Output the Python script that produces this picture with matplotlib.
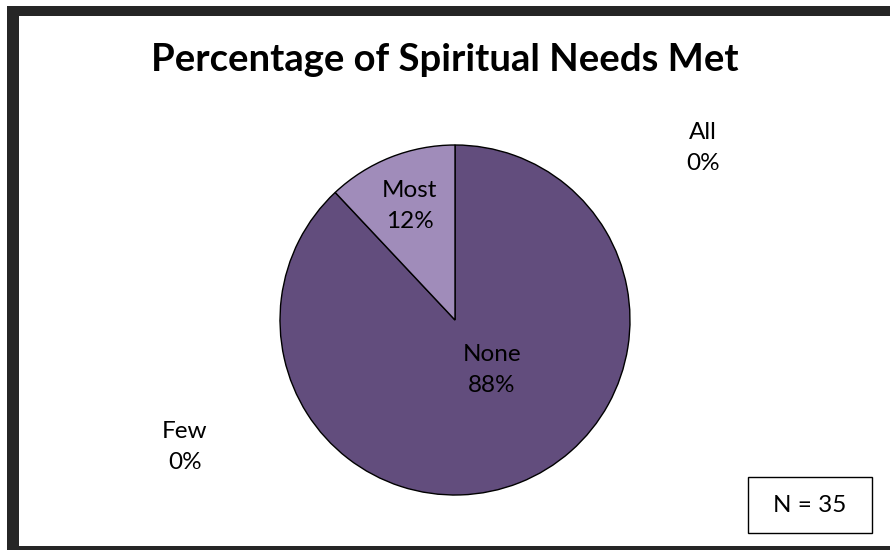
import numpy as np
import matplotlib

matplotlib.use("Agg")

import matplotlib.pyplot as plt
from matplotlib.patches import Rectangle

plt.rcParams["font.family"] = ["Lato", "DejaVu Sans"]

# survey answers, drawn clockwise from 12 o'clock
categories = ["None", "Most", "All", "Few"]
percent = [88, 12, 0, 0]
respondents = 35

colors = {"None": "#624D7D", "Most": "#A08CBA"}
# label offset inside each wedge: (radius fraction, turn from the bisector in deg)
inner_pos = {"None": (0.355, 14.8), "Most": (0.70, 0.0)}
# empty slices get their labels parked outside the pie
outer_pos = {"All": (1.417, 0.983), "Few": (-1.543, -0.726)}

W, H = 890, 550
fig = plt.figure(figsize=(W / 100, H / 100), dpi=100)

# heavy dark frame running off the right and bottom edges
frame = "#262626"
for x0, y0, w, h in [(7, 6, 900, 10), (7, 6, 12, 560), (7, 546, 900, 20)]:
    fig.patches.append(Rectangle((x0 / W, 1 - (y0 + h) / H), w / W, h / H,
                                 transform=fig.transFigure, facecolor=frame,
                                 edgecolor="none"))

fig.text(445 / W, 1 - 60 / H, "Percentage of Spiritual Needs Met",
         ha="center", va="center", fontsize=27.5, fontweight="bold")

cx, cy, r = 455, 320, 175
ax = fig.add_axes([(cx - r) / W, (H - cy - r) / H, 2 * r / W, 2 * r / H])

shown = [(c, v) for c, v in zip(categories, percent) if v > 0]
wedges, _ = ax.pie([v for _, v in shown], startangle=90, counterclock=False,
                   colors=[colors[c] for c, _ in shown],
                   wedgeprops=dict(edgecolor="black", linewidth=1.0))
ax.set_xlim(-1, 1)
ax.set_ylim(-1, 1)
ax.axis("off")

for w, (cat, val) in zip(wedges, shown):
    d, turn = inner_pos[cat]
    ang = np.deg2rad((w.theta1 + w.theta2) / 2 + turn)
    ax.text(d * np.cos(ang), d * np.sin(ang), f"{cat}\n{val}%",
            ha="center", va="center", fontsize=17.5, linespacing=1.6)

for cat, val in zip(categories, percent):
    if val == 0:
        x, y = outer_pos[cat]
        ax.text(x, y, f"{cat}\n{val}%", ha="center", va="center",
                fontsize=17.5, linespacing=1.6, clip_on=False)

fig.text(810 / W, 1 - 505 / H, f"N = {respondents}", ha="center", va="center",
         fontsize=17.5)
fig.patches.append(Rectangle((748 / W, 1 - 533 / H), 124 / W, 56 / H,
                             transform=fig.transFigure, fill=False,
                             edgecolor="black", linewidth=1.0))

fig.savefig("out.png", dpi=100)
